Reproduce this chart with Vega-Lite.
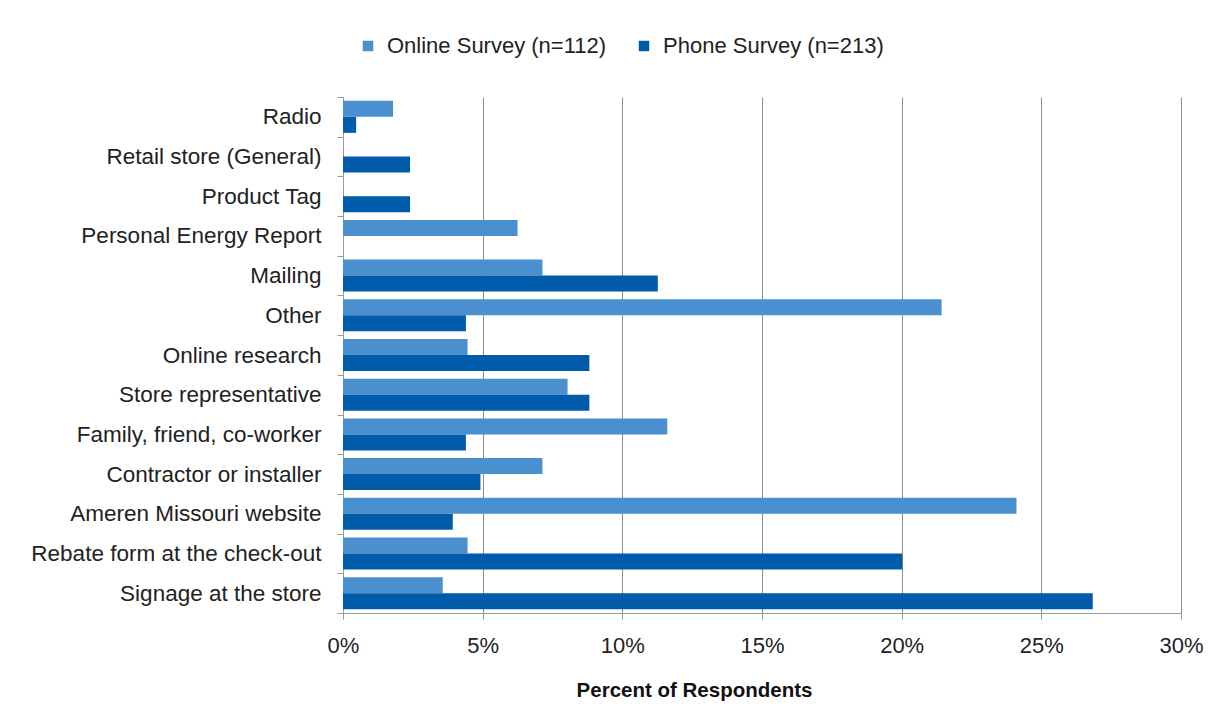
{
  "$schema": "https://vega.github.io/schema/vega-lite/v6.json",
  "width": 838,
  "height": 516,
  "autosize": "none",
  "padding": {"left": 343, "top": 97, "right": 36, "bottom": 110},
  "background": "white",
  "config": {"view": {"stroke": null}, "font": "Liberation Sans"},
  "data": {
    "values": [
      {"source": "Radio", "survey": "Online Survey (n=112)", "pct": 1.79},
      {"source": "Radio", "survey": "Phone Survey (n=213)", "pct": 0.47},
      {"source": "Retail store (General)", "survey": "Phone Survey (n=213)", "pct": 2.4},
      {"source": "Product Tag ", "survey": "Phone Survey (n=213)", "pct": 2.4},
      {"source": "Personal Energy Report", "survey": "Online Survey (n=112)", "pct": 6.25},
      {"source": "Mailing", "survey": "Online Survey (n=112)", "pct": 7.14},
      {"source": "Mailing", "survey": "Phone Survey (n=213)", "pct": 11.27},
      {"source": "Other", "survey": "Online Survey (n=112)", "pct": 21.43},
      {"source": "Other", "survey": "Phone Survey (n=213)", "pct": 4.4},
      {"source": "Online research", "survey": "Online Survey (n=112)", "pct": 4.46},
      {"source": "Online research", "survey": "Phone Survey (n=213)", "pct": 8.82},
      {"source": "Store representative", "survey": "Online Survey (n=112)", "pct": 8.04},
      {"source": "Store representative", "survey": "Phone Survey (n=213)", "pct": 8.82},
      {"source": "Family, friend, co-worker", "survey": "Online Survey (n=112)", "pct": 11.61},
      {"source": "Family, friend, co-worker", "survey": "Phone Survey (n=213)", "pct": 4.4},
      {"source": "Contractor or installer", "survey": "Online Survey (n=112)", "pct": 7.14},
      {"source": "Contractor or installer", "survey": "Phone Survey (n=213)", "pct": 4.92},
      {"source": "Ameren Missouri website", "survey": "Online Survey (n=112)", "pct": 24.11},
      {"source": "Ameren Missouri website", "survey": "Phone Survey (n=213)", "pct": 3.93},
      {"source": "Rebate form at the check-out", "survey": "Online Survey (n=112)", "pct": 4.46},
      {"source": "Rebate form at the check-out", "survey": "Phone Survey (n=213)", "pct": 20.02},
      {"source": "Signage at the store", "survey": "Online Survey (n=112)", "pct": 3.57},
      {"source": "Signage at the store", "survey": "Phone Survey (n=213)", "pct": 26.84}
    ]
  },
  "mark": {"type": "bar"},
  "encoding": {
    "y": {
      "field": "source",
      "type": "nominal",
      "sort": ["Radio", "Retail store (General)", "Product Tag ", "Personal Energy Report", "Mailing", "Other", "Online research", "Store representative", "Family, friend, co-worker", "Contractor or installer", "Ameren Missouri website", "Rebate form at the check-out", "Signage at the store"],
      "scale": {"paddingInner": 0, "paddingOuter": 0},
      "axis": {
        "title": null,
        "tickBand": "extent",
        "labelFontSize": 22.5,
        "labelPadding": 16,
        "tickSize": 6,
        "domainColor": "#9a9a9a",
        "tickColor": "#9a9a9a",
        "labelColor": "#222222",
        "grid": false,
        "labelLimit": 400
      }
    },
    "yOffset": {
      "field": "survey",
      "sort": ["Online Survey (n=112)", "Phone Survey (n=213)"],
      "scale": {"paddingOuter": 0.24, "paddingInner": 0}
    },
    "x": {
      "field": "pct",
      "type": "quantitative",
      "scale": {"domain": [0, 30], "nice": false},
      "axis": {
        "values": [0, 5, 10, 15, 20, 25, 30],
        "labelExpr": "datum.value + '%'",
        "labelFontSize": 22,
        "labelFlush": false,
        "labelPadding": 16,
        "labelColor": "#222222",
        "tickSize": 6,
        "tickColor": "#9a9a9a",
        "domainColor": "#9a9a9a",
        "grid": true,
        "gridColor": "#8c8c8c",
        "gridWidth": 1,
        "title": "Percent of Respondents",
        "titleFontSize": 20.5,
        "titleFontWeight": "bold",
        "titleColor": "#111111",
        "titleX": 351,
        "titleY": 83,
        "titleAlign": "center",
        "titleBaseline": "alphabetic"
      }
    },
    "color": {
      "field": "survey",
      "type": "nominal",
      "scale": {"domain": ["Online Survey (n=112)", "Phone Survey (n=213)"], "range": ["#4A8FCE", "#005BAA"]},
      "legend": {
        "title": null,
        "orient": "none",
        "direction": "horizontal",
        "legendX": 14,
        "legendY": -62,
        "symbolType": "square",
        "symbolSize": 110,
        "symbolStrokeWidth": 0,
        "labelFontSize": 22,
        "labelColor": "#222222",
        "labelOffset": 8,
        "columnPadding": 26,
        "labelLimit": 400
      }
    }
  }
}
